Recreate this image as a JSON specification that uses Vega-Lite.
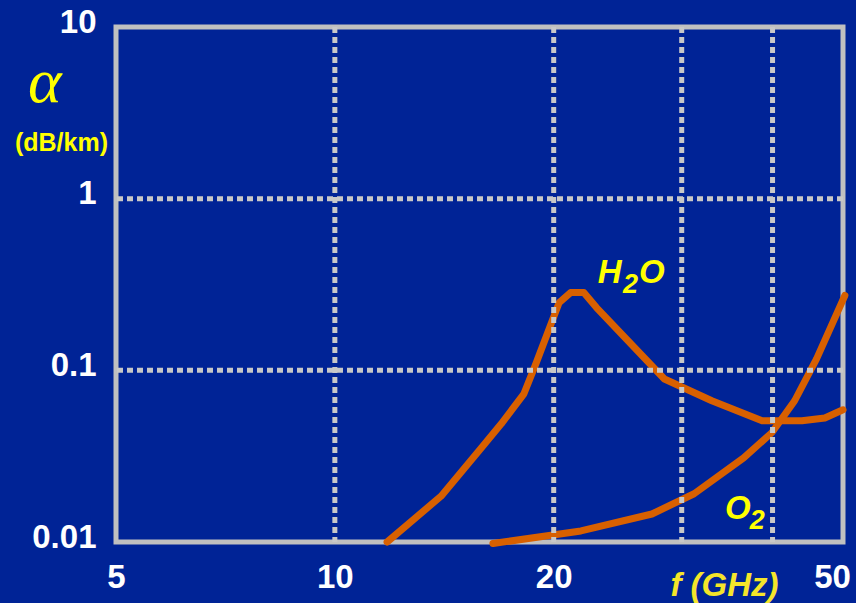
{
  "$schema": "https://vega.github.io/schema/vega-lite/v6.json",
  "width": 727,
  "height": 515,
  "autosize": "none",
  "padding": {"left": 116, "top": 27, "right": 13, "bottom": 61},
  "background": "#002396",
  "config": {
    "view": {"stroke": "#c0c0c0", "strokeWidth": 5},
    "font": "Liberation Sans"
  },
  "datasets": {
    "curves": [
      {"gas": "H2O", "f": 11.8, "alpha": 0.0100},
      {"gas": "H2O", "f": 14.0, "alpha": 0.0185},
      {"gas": "H2O", "f": 15.9, "alpha": 0.0353},
      {"gas": "H2O", "f": 16.94, "alpha": 0.0488},
      {"gas": "H2O", "f": 18.2, "alpha": 0.073},
      {"gas": "H2O", "f": 18.9, "alpha": 0.109},
      {"gas": "H2O", "f": 20.35, "alpha": 0.248},
      {"gas": "H2O", "f": 21.1, "alpha": 0.284},
      {"gas": "H2O", "f": 22.0, "alpha": 0.284},
      {"gas": "H2O", "f": 22.9, "alpha": 0.232},
      {"gas": "H2O", "f": 28.4, "alpha": 0.089},
      {"gas": "H2O", "f": 33.0, "alpha": 0.0665},
      {"gas": "H2O", "f": 38.7, "alpha": 0.0508},
      {"gas": "H2O", "f": 43.9, "alpha": 0.0508},
      {"gas": "H2O", "f": 47.2, "alpha": 0.0528},
      {"gas": "H2O", "f": 50.0, "alpha": 0.0589},
      {"gas": "O2", "f": 16.5, "alpha": 0.0098},
      {"gas": "O2", "f": 21.8, "alpha": 0.0116},
      {"gas": "O2", "f": 27.3, "alpha": 0.01456},
      {"gas": "O2", "f": 31.2, "alpha": 0.0191},
      {"gas": "O2", "f": 36.5, "alpha": 0.0309},
      {"gas": "O2", "f": 39.9, "alpha": 0.0433},
      {"gas": "O2", "f": 42.9, "alpha": 0.0665},
      {"gas": "O2", "f": 46.0, "alpha": 0.117},
      {"gas": "O2", "f": 50.3, "alpha": 0.273}
    ],
    "vgrid": [{"f": 10}, {"f": 20}, {"f": 30}, {"f": 40}],
    "hgrid": [{"alpha": 1}, {"alpha": 0.1}],
    "labels": [
      {"t": "H", "f": 23.0, "alpha": 0.3247},
      {"t": "O", "f": 26.2, "alpha": 0.3247},
      {"t": "O", "f": 34.4, "alpha": 0.01361}
    ],
    "subs": [
      {"t": "2", "f": 24.9, "alpha": 0.284},
      {"t": "2", "f": 37.2, "alpha": 0.01189}
    ],
    "greek": [{"t": "α", "f": 3.99, "alpha": 3.68}]
  },
  "layer": [
    {
      "data": {"name": "curves"},
      "mark": {"type": "line", "color": "#d86000", "strokeWidth": 7, "strokeCap": "round", "strokeJoin": "round"},
      "encoding": {
        "x": {
          "field": "f", "type": "quantitative",
          "scale": {"type": "log", "domain": [5, 50], "nice": false},
          "axis": {
            "values": [5, 10, 20, 50], "format": "~g", "grid": false, "ticks": false, "domain": false,
            "labelFont": "Liberation Sans", "labelFontWeight": "bold", "labelFontSize": 33, "labelColor": "#ffffff",
            "labelPadding": 19, "labelFlush": false, "labelOverlap": false,
            "labelOffset": {"condition": {"test": "datum.value == 50", "value": -11}, "value": 0},
            "title": "f (GHz)", "titleFont": "Liberation Sans", "titleFontWeight": "bold", "titleFontStyle": "italic",
            "titleFontSize": 33, "titleColor": "#f5e52a", "titleX": 608, "titleY": 43,
            "titleAlign": "center", "titleBaseline": "middle"
          }
        },
        "y": {
          "field": "alpha", "type": "quantitative",
          "scale": {"type": "log", "domain": [0.01, 10], "nice": false},
          "axis": {
            "values": [0.01, 0.1, 1, 10], "format": "~g", "grid": false, "ticks": false, "domain": false,
            "labelFont": "Liberation Sans", "labelFontWeight": "bold", "labelFontSize": 33, "labelColor": "#ffffff",
            "labelPadding": 20, "labelFlush": false, "labelOverlap": false, "labelOffset": -5, "labelBaseline": "middle",
            "title": "(dB/km)", "titleFont": "Liberation Sans", "titleFontWeight": "bold",
            "titleFontSize": 25, "titleColor": "#ffff00", "titleAngle": 0, "titleX": -55, "titleY": 115,
            "titleAlign": "center", "titleBaseline": "middle"
          }
        },
        "detail": {"field": "gas", "type": "nominal"}
      }
    },
    {
      "data": {"name": "vgrid"},
      "mark": {"type": "rule", "color": "#c8c8c8", "strokeWidth": 5, "strokeDash": [6, 4]},
      "encoding": {
        "x": {"field": "f", "type": "quantitative"}
      }
    },
    {
      "data": {"name": "hgrid"},
      "mark": {"type": "rule", "color": "#c8c8c8", "strokeWidth": 5, "strokeDash": [6, 4]},
      "encoding": {
        "y": {"field": "alpha", "type": "quantitative"}
      }
    },
    {
      "data": {"name": "greek"},
      "mark": {"type": "text", "font": "Liberation Serif", "fontStyle": "italic", "fontSize": 64, "color": "#ffff00", "align": "center", "baseline": "alphabetic"},
      "encoding": {
        "x": {"field": "f", "type": "quantitative"},
        "y": {"field": "alpha", "type": "quantitative"},
        "text": {"field": "t"}
      }
    },
    {
      "data": {"name": "labels"},
      "mark": {"type": "text", "fontWeight": "bold", "fontStyle": "italic", "fontSize": 33, "color": "#ffff00", "align": "left", "baseline": "alphabetic"},
      "encoding": {
        "x": {"field": "f", "type": "quantitative"},
        "y": {"field": "alpha", "type": "quantitative"},
        "text": {"field": "t"}
      }
    },
    {
      "data": {"name": "subs"},
      "mark": {"type": "text", "fontWeight": "bold", "fontStyle": "italic", "fontSize": 27, "color": "#ffff00", "align": "left", "baseline": "alphabetic"},
      "encoding": {
        "x": {"field": "f", "type": "quantitative"},
        "y": {"field": "alpha", "type": "quantitative"},
        "text": {"field": "t"}
      }
    }
  ]
}
